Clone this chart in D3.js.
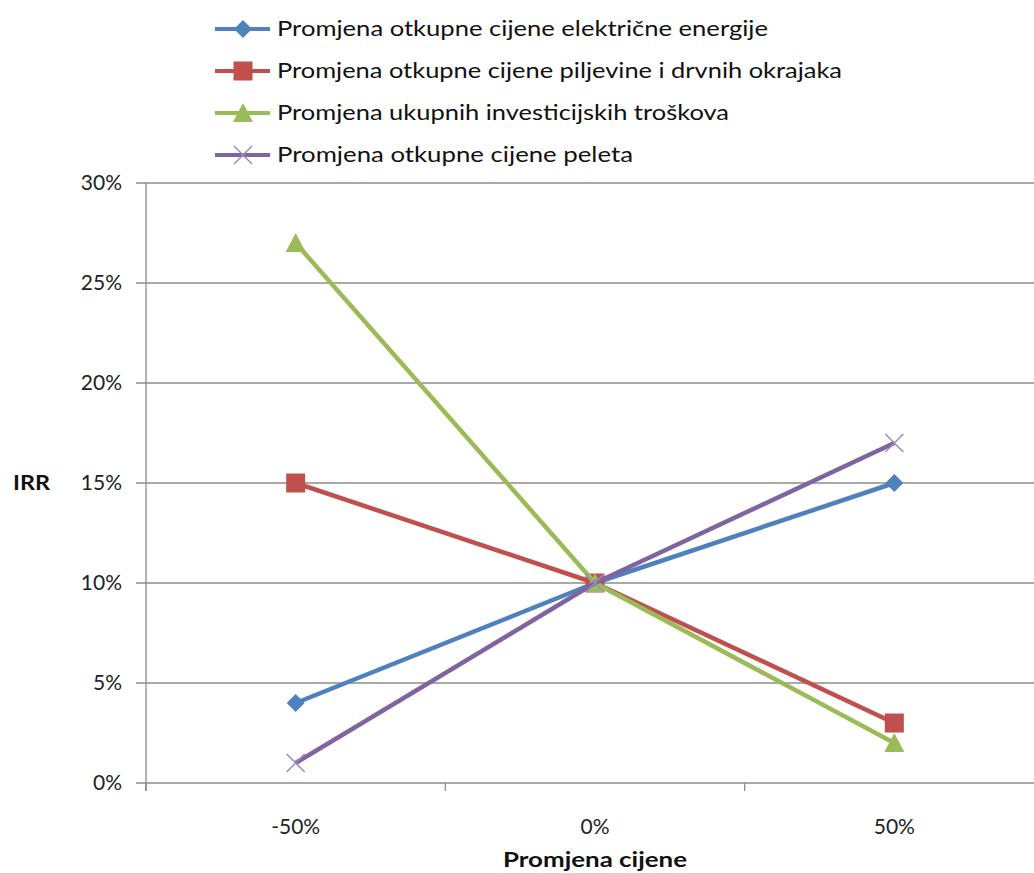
<!DOCTYPE html>
<html><head><meta charset="utf-8">
<script src="https://cdn.jsdelivr.net/npm/d3@7"></script>
<style>body{margin:0;background:#fff;} text{font-family:Lato,"Open Sans",sans-serif;}</style>
</head><body>
<svg id="c" width="1034" height="873"></svg>
<script>
const categories = ["-50%", "0%", "50%"];
const seriesNames = [
  "Promjena otkupne cijene električne energije",
  "Promjena otkupne cijene piljevine i drvnih okrajaka",
  "Promjena ukupnih investicijskih troškova",
  "Promjena otkupne cijene peleta"
];
const elEnergy = [4, 10, 15];
const piljevina = [15, 10, 3];
const investicije = [27, 10, 2];
const peleti = [1, 10, 17];
const yTicks = [0, 5, 10, 15, 20, 25, 30];
const colors = ["#4F81BD", "#C0504D", "#9BBB59", "#8064A2"];
const markers = ["diamond", "square", "triangle", "x"];
const allSeries = [elEnergy, piljevina, investicije, peleti];
const legendWidths = [491, 565, 452, 356];

const svg = d3.select("#c");
const pLeft = 146, pRight = 1044, pTop = 183, pBottom = 783;
const x = d3.scaleBand().domain(categories).range([pLeft, pRight]);
const y = d3.scaleLinear().domain([0, 30]).range([pBottom, pTop]);

// gridlines
svg.append("g").selectAll("line").data(yTicks).join("line")
  .attr("x1", pLeft - 10).attr("x2", pRight).attr("y1", d => y(d)).attr("y2", d => y(d))
  .attr("stroke", "#8c8c8c").attr("stroke-width", 1.3);
// y axis line
svg.append("line").attr("x1", pLeft).attr("x2", pLeft).attr("y1", pTop).attr("y2", pBottom + 8)
  .attr("stroke", "#8c8c8c").attr("stroke-width", 1.3);
// x ticks
const xb = categories.map(c => x(c)).concat([pRight]);
svg.append("g").selectAll("line").data(xb).join("line")
  .attr("x1", d => d).attr("x2", d => d).attr("y1", pBottom).attr("y2", pBottom + 8)
  .attr("stroke", "#8c8c8c").attr("stroke-width", 1.3);

// y labels
svg.append("g").selectAll("text").data(yTicks).join("text")
  .attr("x", 122).attr("y", d => y(d)).attr("dy", "0.35em").attr("text-anchor", "end")
  .attr("font-size", 21).attr("fill", "#222").text(d => d + "%");
// x labels
svg.append("g").selectAll("text").data(categories).join("text")
  .attr("x", d => x(d) + x.bandwidth() / 2).attr("y", 827).attr("dy", "0.35em")
  .attr("text-anchor", "middle").attr("font-size", 21).attr("fill", "#222").text(d => d);

svg.append("text").attr("x", 13).attr("y", 483).attr("dy", "0.35em")
  .attr("font-size", 21).attr("font-weight", "bold").attr("fill", "#111")
  .attr("textLength", 37).attr("lengthAdjust", "spacingAndGlyphs").text("IRR");
svg.append("text").attr("x", 503).attr("y", 860).attr("dy", "0.35em")
  .attr("font-size", 21).attr("font-weight", "bold").attr("fill", "#111")
  .attr("textLength", 184).attr("lengthAdjust", "spacingAndGlyphs").text("Promjena cijene");

function drawMarker(g, type, color, cx, cy) {
  if (type === "diamond") {
    g.append("path").attr("d", `M${cx},${cy-9}L${cx+9},${cy}L${cx},${cy+9}L${cx-9},${cy}Z`).attr("fill", color);
  } else if (type === "square") {
    g.append("rect").attr("x", cx - 9.5).attr("y", cy - 9.5).attr("width", 19).attr("height", 19).attr("fill", color);
  } else if (type === "triangle") {
    g.append("path").attr("d", `M${cx},${cy-10}L${cx+10},${cy+9}L${cx-10},${cy+9}Z`).attr("fill", color);
  } else {
    g.append("path").attr("d", `M${cx-9},${cy-9}L${cx+9},${cy+9}M${cx+9},${cy-9}L${cx-9},${cy+9}`)
      .attr("stroke", "#9f8ac0").attr("stroke-width", 1.5).attr("fill", "none");
  }
}

const line = d3.line().x((d, i) => x(categories[i]) + x.bandwidth() / 2).y(d => y(d));
allSeries.forEach((s, k) => {
  const g = svg.append("g");
  g.append("path").attr("d", line(s)).attr("fill", "none").attr("stroke", colors[k])
    .attr("stroke-width", 4.5).attr("stroke-linejoin", "round");
  s.forEach((v, i) => drawMarker(g, markers[k], colors[k], x(categories[i]) + x.bandwidth() / 2, y(v)));
});

// legend
const lg = svg.append("g");
seriesNames.forEach((n, k) => {
  const yy = 29 + k * 42;
  lg.append("line").attr("x1", 215).attr("x2", 270).attr("y1", yy).attr("y2", yy)
    .attr("stroke", colors[k]).attr("stroke-width", 4);
  drawMarker(lg, markers[k], colors[k], 243, yy);
  lg.append("text").attr("x", 277).attr("y", yy).attr("dy", "0.35em").attr("font-size", 21)
    .attr("fill", "#111").attr("textLength", legendWidths[k]).attr("lengthAdjust", "spacingAndGlyphs")
    .text(n);
});
</script>
</body></html>
